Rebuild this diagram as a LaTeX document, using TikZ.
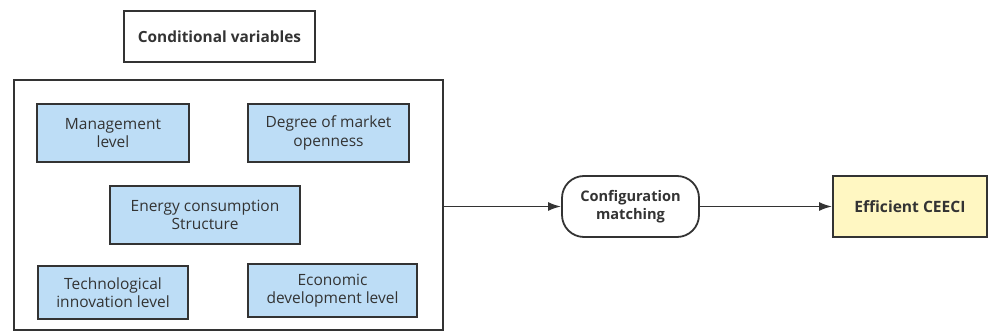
\documentclass[tikz,border=0pt]{standalone}
\usepackage{fontspec}
\setmainfont{Open Sans}
\usetikzlibrary{arrows.meta}
\definecolor{ink}{HTML}{333333}
\definecolor{varblue}{HTML}{BDDDF6}
\definecolor{outyellow}{HTML}{FFF7C2}
\tikzset{
    title/.style={draw=ink, line width=1.8pt, minimum width=191pt, minimum height=51pt, inner sep=0, font=\fontsize{15.4}{18}\selectfont\bfseries, text=ink},
    var/.style={draw=ink, line width=1.8pt, fill=varblue, inner sep=0, align=center, font=\fontsize{15.5}{18.5}\selectfont, text=ink},
    frame/.style={draw=ink, line width=1.8pt},
    match/.style={draw=ink, line width=1.8pt, rounded corners=22pt, minimum width=137pt, minimum height=61pt, inner sep=0, align=center, font=\fontsize{14.6}{18}\selectfont\bfseries, text=ink},
    result/.style={draw=ink, line width=1.8pt, fill=outyellow, minimum width=154pt, minimum height=61pt, inner sep=0, font=\fontsize{15.6}{18}\selectfont\bfseries, text=ink},
    flow/.style={draw=ink, line width=1.8pt, -{Latex[length=13pt,width=9pt]}}
}

\begin{document}
\begin{tikzpicture}[x=1pt, y=1pt]
    \useasboundingbox (0,0) rectangle (989,332);
    \node[title] (cond) at (219.5,295.5) {Conditional variables};
    \node[frame, minimum width=429pt, minimum height=250pt, inner sep=0] (vars) at (228.5,127) {};
    \node[var, minimum width=152pt, minimum height=58pt] (mgmt) at (113,199) {Management\\level};
    \node[var, minimum width=161pt, minimum height=58pt] (open) at (328.5,199) {Degree of market\\openness};
    \node[var, minimum width=190pt, minimum height=58pt] (energy) at (205,117) {Energy consumption\\Structure};
    \node[var, minimum width=150pt, minimum height=53pt] (tech) at (113,39.5) {Technological\\innovation level};
    \node[var, minimum width=169pt, minimum height=53pt] (econ) at (332.5,41.5) {Economic\\development level};
    \node[match] (conf) at (630.5,125.5) {Configuration\\matching};
    \node[result] (eff) at (910,125.5) {Efficient CEECI};
    % connectors
    \draw[flow] (vars.east |- conf.west) -- (conf.west);
    \draw[flow] (conf.east) -- (eff.west);
\end{tikzpicture}
\end{document}
